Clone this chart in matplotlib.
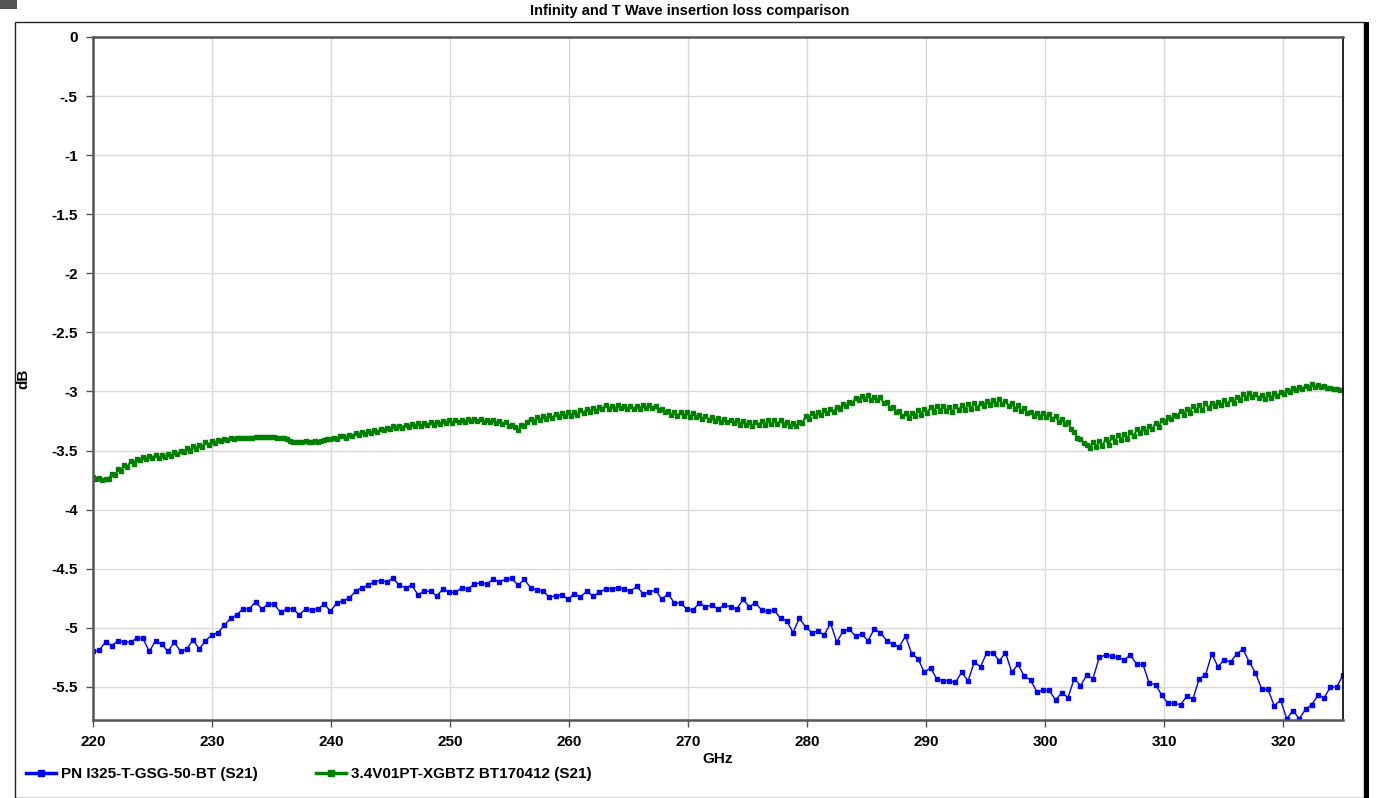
import numpy as np
import matplotlib
matplotlib.use("Agg")
import matplotlib.pyplot as plt
from matplotlib.patches import Rectangle

plt.rcParams['font.family'] = ['Liberation Sans Narrow', 'Liberation Sans', 'DejaVu Sans']

title = "Infinity and T Wave insertion loss comparison"
name_blue = "PN I325-T-GSG-50-BT (S21)"
name_green = "3.4V01PT-XGBTZ BT170412 (S21)"

f_start, f_stop = 220, 325

# PN I325 probe, S21 in dB (201 sweep points)
blue_db = [
    -5.20, -5.19, -5.12, -5.15, -5.11, -5.12, -5.12, -5.09, -5.09, -5.20, -5.11, -5.14, -5.20, -5.12, -5.20, -5.18, -5.10, -5.18, -5.11, -5.06,
    -5.04, -4.98, -4.92, -4.89, -4.84, -4.84, -4.78, -4.84, -4.80, -4.80, -4.87, -4.84, -4.84, -4.89, -4.84, -4.85, -4.84, -4.80, -4.86, -4.79,
    -4.77, -4.75, -4.69, -4.66, -4.64, -4.61, -4.60, -4.61, -4.58, -4.64, -4.66, -4.64, -4.72, -4.69, -4.69, -4.73, -4.67, -4.70, -4.70, -4.66,
    -4.67, -4.63, -4.62, -4.63, -4.59, -4.61, -4.59, -4.58, -4.64, -4.59, -4.66, -4.68, -4.69, -4.74, -4.73, -4.72, -4.76, -4.71, -4.74, -4.69,
    -4.73, -4.70, -4.67, -4.67, -4.66, -4.67, -4.69, -4.65, -4.71, -4.70, -4.68, -4.76, -4.71, -4.79, -4.79, -4.84, -4.85, -4.79, -4.82, -4.81,
    -4.84, -4.81, -4.82, -4.84, -4.76, -4.82, -4.79, -4.85, -4.86, -4.85, -4.92, -4.94, -5.04, -4.92, -4.99, -5.04, -5.03, -5.06, -4.96, -5.12,
    -5.03, -5.01, -5.07, -5.05, -5.11, -5.01, -5.04, -5.11, -5.14, -5.16, -5.07, -5.22, -5.26, -5.375, -5.34, -5.43, -5.45, -5.45, -5.46, -5.375,
    -5.45, -5.29, -5.33, -5.21, -5.21, -5.28, -5.21, -5.375, -5.31, -5.41, -5.44, -5.54, -5.53, -5.53, -5.61, -5.55, -5.59, -5.43, -5.49, -5.40,
    -5.43, -5.25, -5.23, -5.24, -5.25, -5.27, -5.23, -5.31, -5.31, -5.47, -5.48, -5.57, -5.64, -5.64, -5.65, -5.58, -5.60, -5.43, -5.40, -5.22,
    -5.33, -5.27, -5.29, -5.22, -5.18, -5.29, -5.38, -5.52, -5.52, -5.66, -5.61, -5.77, -5.70, -5.77, -5.69, -5.65, -5.57, -5.59, -5.50, -5.50,
    -5.40,
]

# T Wave probe, S21 in dB (401 sweep points)
green_db = [
    -3.72, -3.74, -3.73, -3.75, -3.74, -3.74, -3.70, -3.71, -3.66, -3.67, -3.62, -3.64, -3.59, -3.61, -3.57, -3.58, -3.555, -3.57, -3.55, -3.56,
    -3.54, -3.56, -3.54, -3.555, -3.53, -3.55, -3.51, -3.53, -3.50, -3.515, -3.48, -3.50, -3.465, -3.485, -3.45, -3.47, -3.43, -3.45, -3.42, -3.435,
    -3.41, -3.42, -3.40, -3.41, -3.395, -3.40, -3.39, -3.395, -3.39, -3.39, -3.39, -3.39, -3.388, -3.388, -3.388, -3.388, -3.388, -3.388, -3.388, -3.39,
    -3.39, -3.39, -3.40, -3.42, -3.43, -3.43, -3.43, -3.43, -3.42, -3.425, -3.43, -3.415, -3.43, -3.42, -3.41, -3.40, -3.405, -3.39, -3.40, -3.38,
    -3.375, -3.39, -3.365, -3.38, -3.355, -3.37, -3.345, -3.36, -3.335, -3.35, -3.325, -3.34, -3.315, -3.33, -3.305, -3.32, -3.295, -3.31, -3.29, -3.305,
    -3.28, -3.30, -3.275, -3.295, -3.27, -3.29, -3.265, -3.285, -3.26, -3.28, -3.255, -3.275, -3.25, -3.27, -3.245, -3.265, -3.24, -3.26, -3.24, -3.255,
    -3.235, -3.25, -3.23, -3.25, -3.23, -3.255, -3.24, -3.26, -3.245, -3.27, -3.25, -3.275, -3.26, -3.29, -3.28, -3.30, -3.33, -3.285, -3.29, -3.255,
    -3.235, -3.26, -3.22, -3.245, -3.21, -3.23, -3.195, -3.225, -3.19, -3.215, -3.185, -3.21, -3.175, -3.205, -3.17, -3.195, -3.155, -3.185, -3.145, -3.17,
    -3.14, -3.165, -3.13, -3.15, -3.115, -3.145, -3.12, -3.145, -3.115, -3.14, -3.12, -3.15, -3.125, -3.15, -3.12, -3.145, -3.115, -3.14, -3.115, -3.14,
    -3.125, -3.16, -3.145, -3.175, -3.165, -3.20, -3.175, -3.205, -3.175, -3.21, -3.175, -3.215, -3.185, -3.22, -3.195, -3.235, -3.205, -3.24, -3.215, -3.25,
    -3.225, -3.255, -3.23, -3.26, -3.24, -3.27, -3.245, -3.28, -3.25, -3.285, -3.255, -3.29, -3.255, -3.285, -3.25, -3.28, -3.245, -3.275, -3.245, -3.275,
    -3.245, -3.28, -3.255, -3.29, -3.265, -3.295, -3.255, -3.27, -3.21, -3.23, -3.185, -3.21, -3.175, -3.20, -3.16, -3.185, -3.15, -3.175, -3.13, -3.145,
    -3.11, -3.125, -3.085, -3.10, -3.055, -3.075, -3.035, -3.065, -3.03, -3.07, -3.045, -3.075, -3.05, -3.10, -3.085, -3.14, -3.13, -3.175, -3.165, -3.21,
    -3.185, -3.225, -3.18, -3.21, -3.16, -3.195, -3.145, -3.18, -3.135, -3.175, -3.125, -3.165, -3.12, -3.165, -3.13, -3.17, -3.125, -3.16, -3.115, -3.155,
    -3.11, -3.145, -3.10, -3.14, -3.095, -3.125, -3.08, -3.115, -3.07, -3.105, -3.065, -3.11, -3.08, -3.125, -3.095, -3.145, -3.115, -3.165, -3.14, -3.185,
    -3.17, -3.205, -3.18, -3.215, -3.18, -3.22, -3.19, -3.235, -3.21, -3.255, -3.23, -3.275, -3.26, -3.32, -3.34, -3.39, -3.40, -3.44, -3.45, -3.475,
    -3.43, -3.47, -3.42, -3.46, -3.405, -3.45, -3.385, -3.43, -3.37, -3.41, -3.36, -3.40, -3.34, -3.38, -3.32, -3.355, -3.31, -3.345, -3.29, -3.32,
    -3.265, -3.30, -3.245, -3.26, -3.215, -3.235, -3.20, -3.21, -3.165, -3.195, -3.15, -3.18, -3.12, -3.16, -3.115, -3.155, -3.10, -3.14, -3.095, -3.125,
    -3.085, -3.115, -3.075, -3.11, -3.065, -3.095, -3.045, -3.075, -3.025, -3.055, -3.015, -3.045, -3.02, -3.055, -3.03, -3.065, -3.025, -3.055, -3.015, -3.035,
    -3.005, -3.025, -2.99, -3.005, -2.97, -2.99, -2.96, -2.98, -2.95, -2.97, -2.94, -2.96, -2.945, -2.96, -2.955, -2.97, -2.97, -2.975, -2.98, -2.985,
    -2.99,
]

x_ticks = [220, 230, 240, 250, 260, 270, 280, 290, 300, 310, 320]
y_ticks = [0, -0.5, -1, -1.5, -2, -2.5, -3, -3.5, -4, -4.5, -5, -5.5]
y_tick_labels = ["0", "-.5", "-1", "-1.5", "-2", "-2.5", "-3", "-3.5", "-4", "-4.5", "-5", "-5.5"]

freq_blue = np.linspace(f_start, f_stop, len(blue_db))
freq_green = np.linspace(f_start, f_stop, len(green_db))

W, H = 1378, 798
fig = plt.figure(figsize=(W / 100, H / 100), dpi=100)
fig.patch.set_facecolor('white')

# window frame
fig.patches.append(Rectangle((15 / W, 0), (1364 - 15) / W, 1 - 22 / H, transform=fig.transFigure,
                             fill=False, edgecolor='#222222', linewidth=1.0))
fig.patches.append(Rectangle((1364 / W, 0), 5 / W, 1 - 22 / H, transform=fig.transFigure,
                             facecolor='black', edgecolor='none'))
fig.patches.append(Rectangle((0, 1 - 9 / H), 17 / W, 9 / H, transform=fig.transFigure,
                             facecolor='#555555', edgecolor='none'))

ax = fig.add_axes([93 / W, 1 - 720 / H, (1343 - 93) / W, (720 - 37) / H])

ax.plot(freq_blue, blue_db, color='#0000ff', linewidth=1.0, marker='s', markersize=2.5,
        label=name_blue)
ax.plot(freq_green, green_db, color='#008000', linewidth=1.4, marker='s', markersize=2.2,
        label=name_green)

ax.set_xlim(f_start, f_stop)
ax.set_ylim(-5.78, 0)
ax.set_xticks(x_ticks)
ax.set_xticklabels([str(t) for t in x_ticks], fontweight='bold', fontsize=11)
ax.set_yticks(y_ticks)
ax.set_yticklabels(y_tick_labels, fontweight='bold', fontsize=11)
ax.tick_params(direction='out', length=5, width=1, colors='#555555', labelcolor='black', pad=6)
ax.grid(True, color='#d9d9d9', linewidth=1.0)
ax.set_axisbelow(True)

for side in ['left', 'bottom', 'top']:
    ax.spines[side].set_color('#555555')
    ax.spines[side].set_linewidth(1.8)
ax.spines['right'].set_color('black')
ax.spines['right'].set_linewidth(1.2)

ax.set_xlabel("GHz", fontweight='bold', fontsize=11, labelpad=2)
ax.set_ylabel("dB", fontweight='bold', fontsize=11)
ax.yaxis.set_label_coords(-0.05, 0.5)

fig.text(690 / W, 1 - 11 / H, title, ha='center', va='center', fontweight='bold', fontsize=10.5)

leg = fig.legend(loc='center left', bbox_to_anchor=(12 / W, 1 - 774 / H), ncol=2, frameon=False,
                 handlelength=2.0, columnspacing=3.8, handletextpad=0.3,
                 prop={'weight': 'bold', 'size': 11})
for h in leg.legend_handles:
    h.set_linewidth(2.5)
    h.set_markersize(4)

fig.savefig("out.png", dpi=100)
